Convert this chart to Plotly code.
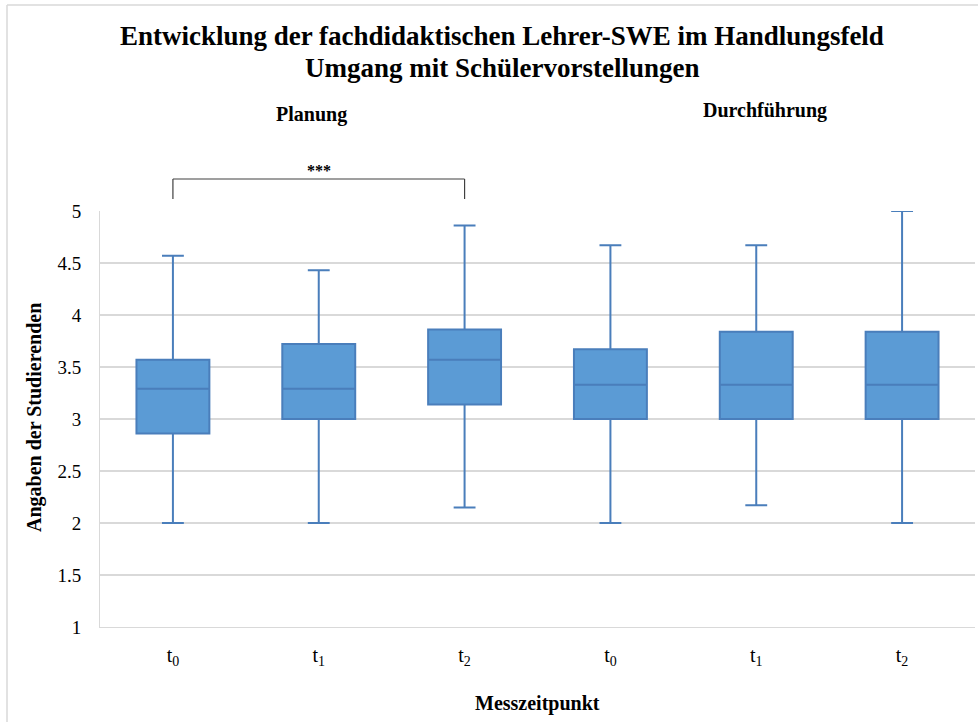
import plotly.graph_objects as go

# Fünf-Punkte-Zusammenfassung je Messzeitpunkt (Planung t0-t2, Durchführung t0-t2)
zeitpunkte = ["t<sub>0</sub>", "t<sub>1</sub>", "t<sub>2</sub>",
              "t<sub>0</sub>", "t<sub>1</sub>", "t<sub>2</sub>"]
minimum = [2.00, 2.00, 2.15, 2.00, 2.17, 2.00]
q1 = [2.86, 3.00, 3.14, 3.00, 3.00, 3.00]
median = [3.29, 3.29, 3.57, 3.33, 3.33, 3.33]
q3 = [3.57, 3.72, 3.86, 3.67, 3.84, 3.84]
maximum = [4.57, 4.43, 4.86, 4.67, 4.67, 5.00]
bereiche = ["Planung", "Durchführung"]
titelzeilen = ["Entwicklung der fachdidaktischen Lehrer-SWE im Handlungsfeld",
               "Umgang mit Schülervorstellungen"]

W, H = 978, 722
L, R, T, B = 100, 3, 211, 95
PW, PH = W - L - R, H - T - B


def px(x):
    return (x - L) / PW


def py(y):
    return (H - B - y) / PH


serif = "Liberation Serif, Times New Roman, serif"
pos = list(range(len(zeitpunkte)))

fig = go.Figure()
fig.add_trace(go.Box(
    x=pos,
    q1=q1, median=median, q3=q3,
    lowerfence=minimum, upperfence=maximum,
    width=0.5, whiskerwidth=0.3,
    fillcolor="#5B9BD5",
    line=dict(color="#4A7EBB", width=2),
    boxpoints=False,
    showlegend=False,
))

fig.update_layout(
    width=W, height=H,
    margin=dict(l=L, r=R, t=T, b=B),
    paper_bgcolor="white", plot_bgcolor="white",
    font=dict(family=serif, color="#000000", size=19),
    xaxis=dict(
        range=[-0.5, 5.5], tickvals=pos, ticktext=zeitpunkte,
        showgrid=False, zeroline=False,
        showline=True, linecolor="#D9D9D9", linewidth=1,
        ticks="outside", ticklen=10, tickcolor="rgba(0,0,0,0)",
        tickfont=dict(size=20, family=serif),
    ),
    yaxis=dict(
        range=[1, 5], dtick=0.5, tick0=1,
        showgrid=True, gridcolor="#D9D9D9", gridwidth=1.5,
        zeroline=False, showline=True, linecolor="#D9D9D9", linewidth=1,
        ticks="outside", ticklen=14, tickcolor="rgba(0,0,0,0)",
        tickfont=dict(size=19, family=serif),
    ),
)

# Überschrift (zweizeilig)
for zeile, cy in zip(titelzeilen, [36, 68]):
    fig.add_annotation(
        text=f"<b>{zeile}</b>", xref="paper", yref="paper",
        x=px(502), y=py(cy), xanchor="center", yanchor="middle",
        showarrow=False, font=dict(size=27, family=serif),
    )

# Achsentitel
fig.add_annotation(
    text="<b>Angaben der Studierenden</b>", xref="paper", yref="paper",
    x=px(34), y=py(418), xanchor="center", yanchor="middle", textangle=-90,
    showarrow=False, font=dict(size=20, family=serif),
)
fig.add_annotation(
    text="<b>Messzeitpunkt</b>", xref="paper", yref="paper",
    x=px(537), y=py(703), xanchor="center", yanchor="middle",
    showarrow=False, font=dict(size=20, family=serif),
)

# Bereichsbeschriftungen
for name, cx, cy in zip(bereiche, [311, 765], [115, 111]):
    fig.add_annotation(
        text=f"<b>{name}</b>", xref="paper", yref="paper",
        x=px(cx), y=py(cy), xanchor="center", yanchor="middle",
        showarrow=False, font=dict(size=20, family=serif),
    )

# Signifikanzklammer zwischen Planung t0 und t2
yb_top, yb_end = py(179), py(199)
for x0, y0, x1, y1 in [(0, yb_top, 2, yb_top), (0, yb_top, 0, yb_end), (2, yb_top, 2, yb_end)]:
    fig.add_shape(type="line", xref="x", yref="paper", x0=x0, y0=y0, x1=x1, y1=y1,
                  line=dict(color="#404040", width=1.2))
fig.add_annotation(text="<b>***</b>", xref="x", yref="paper", x=1, y=py(170),
                   xanchor="center", yanchor="middle", showarrow=False,
                   font=dict(size=16, family=serif))

# Rahmen des Diagrammbereichs
fig.add_shape(type="line", xref="paper", yref="paper",
              x0=px(7), y0=py(H + 5), x1=px(7), y1=py(5),
              line=dict(color="#D9D9D9", width=1.5))
fig.add_shape(type="line", xref="paper", yref="paper",
              x0=px(7), y0=py(5), x1=px(W + 5), y1=py(5),
              line=dict(color="#D9D9D9", width=1.5))

fig.write_html("out.html")
